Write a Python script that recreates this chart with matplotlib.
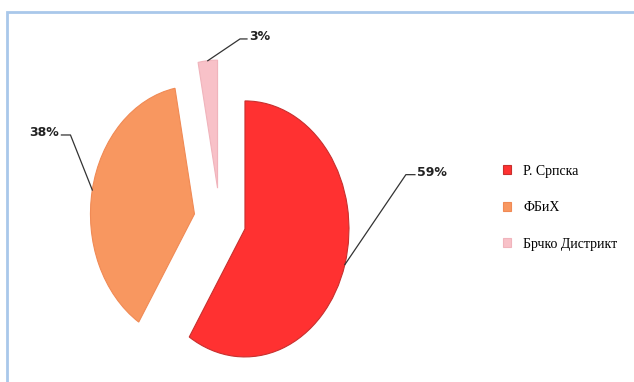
import numpy as np
import matplotlib.pyplot as plt
from matplotlib.patches import Rectangle

labels = ['Р. Српска', 'ФБиХ', 'Брчко Дистрикт']
shares = [59, 38, 3]
colors = ['#ff3131', '#f89760', '#f8c1c8']
edges = ['#c8302e', '#f08a55', '#f0b4bc']

W, H = 634, 382
fig = plt.figure(figsize=(W / 100, H / 100), dpi=100)

# pie axes, stretched so the pie comes out as a tall ellipse
rx, ry = 104, 128          # pixels per data unit
cx, cy = 220, H - 220      # pie centre in pixels
lim = 1.4
ax = fig.add_axes([(cx - lim * rx) / W, (cy - lim * ry) / H,
                   2 * lim * rx / W, 2 * lim * ry / H])

wedges, _ = ax.pie(shares, colors=colors, startangle=90, counterclock=False,
                   explode=[0.25] * len(shares), radius=1,
                   wedgeprops=dict(linewidth=0.8))
for w, ec in zip(wedges, edges):
    w.set_edgecolor(ec)
ax.set_aspect('auto')
ax.set_xlim(-lim, lim)
ax.set_ylim(-lim, lim)
ax.axis('off')

# leader lines: (dx, dy) to elbow, then horizontal run
leaders = [(0.587, 0.703, 0.087), (-0.21, 0.43, -0.087), (0.31, 0.17, 0.067)]
for w, pct, (dx, dy, hx) in zip(wedges, shares, leaders):
    a = np.deg2rad((w.theta1 + w.theta2) / 2)
    x0 = w.center[0] + w.r * np.cos(a)
    y0 = w.center[1] + w.r * np.sin(a)
    xs = [x0, x0 + dx, x0 + dx + hx]
    ys = [y0, y0 + dy, y0 + dy]
    ax.plot(xs, ys, color='#333333', lw=0.9, clip_on=False)
    ha = 'left' if hx > 0 else 'right'
    ax.text(xs[-1] + np.sign(hx) * 0.02, ys[-1] + 0.02, f'{pct}%', ha=ha, va='center',
            fontsize=9, fontweight='bold', color='#222222')

fig.legend(wedges, labels, loc='upper left', bbox_to_anchor=(490 / W, 1 - 152 / H),
           frameon=False, handlelength=0.6, handleheight=0.6, handletextpad=0.9,
           labelspacing=1.7, prop=dict(family='Liberation Serif', size=10))

# light blue frame round the picture
fig.add_artist(Rectangle((7 / W, -0.1), 1.2, 1.1 - 12 / H, transform=fig.transFigure,
                         fill=False, edgecolor='#a9c8ea', lw=2))

fig.savefig('out.png', dpi=100)
